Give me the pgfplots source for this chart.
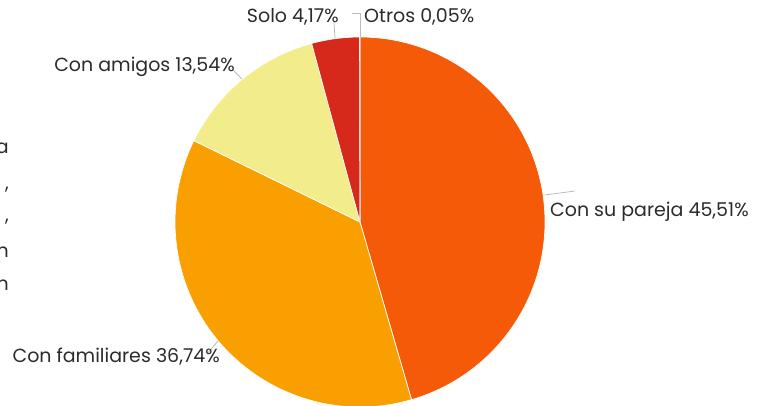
\documentclass[border=0pt]{standalone}
\usepackage{pgfplots}
\pgfplotsset{compat=1.18}
\usepackage{fontspec}
\setmainfont{Poppins}
\definecolor{cpareja}{HTML}{F45A07}
\definecolor{cfam}{HTML}{FA9F00}
\definecolor{camigos}{HTML}{F3EC8A}
\definecolor{csolo}{HTML}{D7291B}
\definecolor{cotros}{HTML}{A0160E}
\definecolor{ctext}{HTML}{2B2B2B}
\definecolor{cline}{HTML}{BBBBBB}
\begin{document}
\begin{tikzpicture}
\path[use as bounding box] (0,0) rectangle (761pt,406pt);
\begin{axis}[
  scale only axis, width=761pt, height=406pt,
  xmin=0, xmax=761, ymin=0, ymax=406,
  hide axis, clip=false]
% slices: percentage / colour, clockwise from the top
\def\acc{90}
\pgfplotsforeachungrouped \v/\col in {45.51/cpareja,36.74/cfam,13.54/camigos,4.17/csolo,0.05/cotros}{%
  \pgfmathsetmacro\endang{\acc-3.6*\v}%
  \edef\temp{\noexpand\fill[\col,draw=white,line width=0.7pt] (axis cs:360,184) -- ++(\acc:185pt)
    arc[start angle=\acc,end angle=\endang,radius=185pt] -- cycle;}%
  \temp
  \let\acc\endang
}
% leader lines
\draw[cline,line width=0.8pt] (axis cs:545,211) -- (axis cs:575,215);
\draw[cline,line width=0.8pt] (axis cs:242,327) -- (axis cs:233,336);
\draw[cline,line width=0.8pt] (axis cs:335,368) -- (axis cs:334,384);
\draw[cline,line width=0.8pt] (axis cs:360,369) -- (axis cs:360,393) -- (axis cs:352,393);
\draw[cline,line width=0.8pt] (axis cs:218,65) -- (axis cs:207,52);
% labels
\begin{scope}[every node/.style={text=ctext,inner sep=0pt,font=\fontsize{19}{22}\selectfont}]
\node[anchor=east] at (axis cs:339,389) {Solo 4,17\%};
\node[anchor=west] at (axis cs:364,389) {Otros 0,05\%};
\node[anchor=east] at (axis cs:235,339) {Con amigos 13,54\%};
\node[anchor=west] at (axis cs:550,194) {Con su pareja 45,51\%};
\node[anchor=east] at (axis cs:220,49) {Con familiares 36,74\%};
\end{scope}
% cut-off text at the left edge
\begin{scope}[every node/.style={text=ctext,inner sep=0pt,anchor=east,font=\fontsize{19}{22}\selectfont}]
\node at (axis cs:9,258) {a};
\node at (axis cs:9,216) {,};
\node at (axis cs:9,184) {,};
\node at (axis cs:9,154) {n};
\node at (axis cs:9,121) {n};
\end{scope}
\end{axis}
\end{tikzpicture}
\end{document}
